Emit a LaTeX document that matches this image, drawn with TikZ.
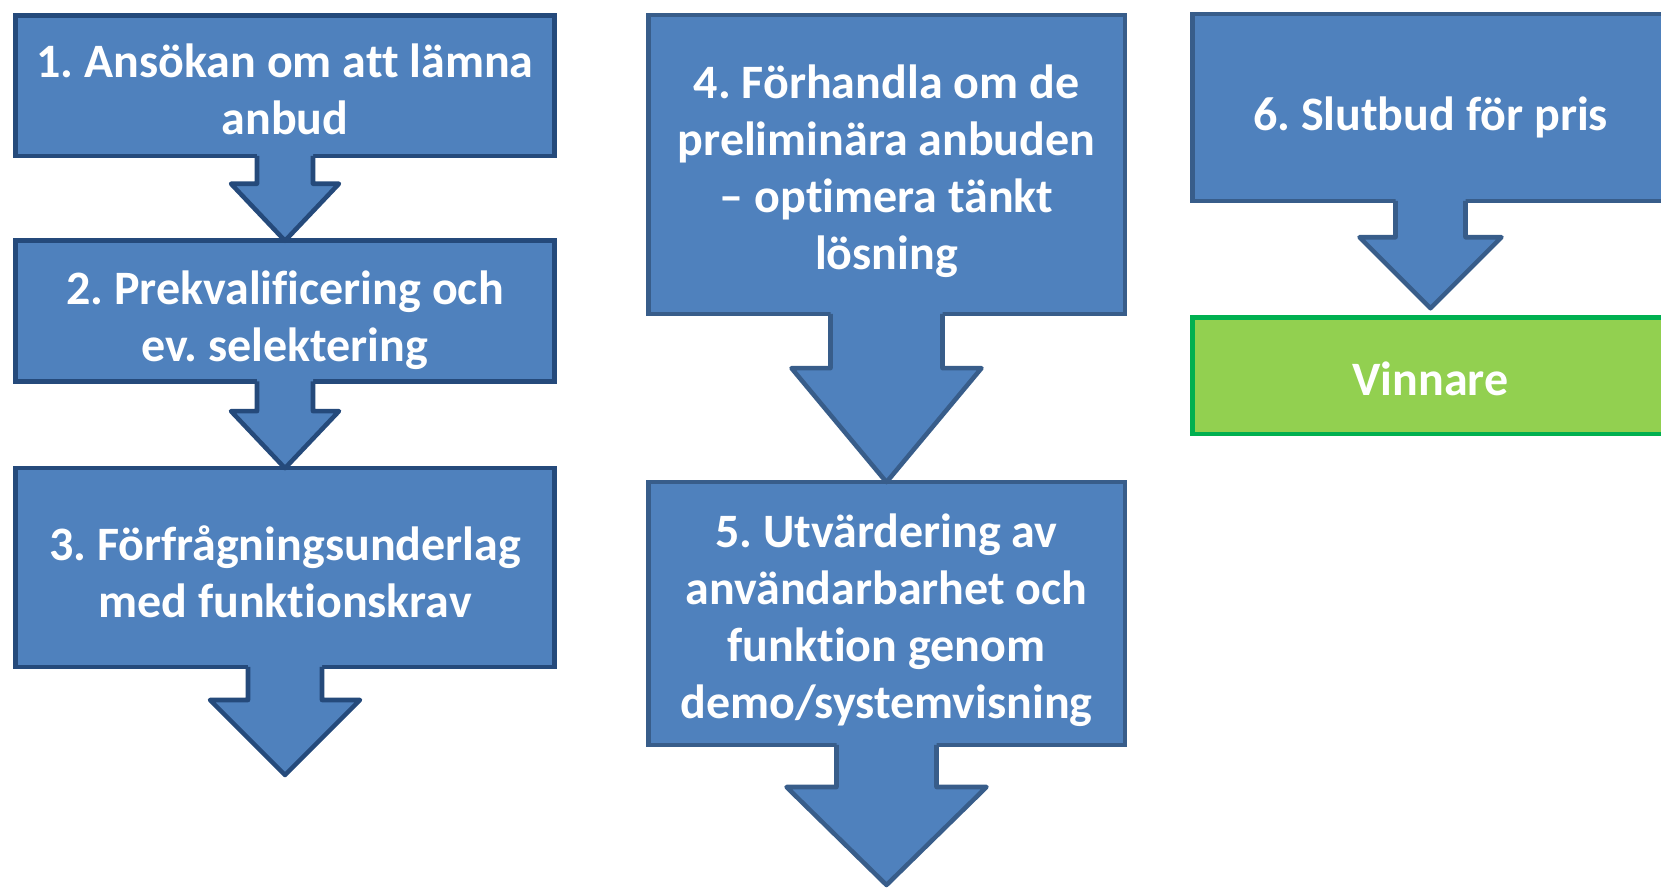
\documentclass[tikz,border=0pt]{standalone}
\usepackage{fontspec}
\setmainfont{Carlito}[Ligatures=NoCommon]
\frenchspacing
\usetikzlibrary{calc}

\definecolor{stepblue}{HTML}{4F81BD}
\definecolor{stepedge}{HTML}{385D8A}
\definecolor{stepedgedark}{HTML}{254A7B}
\definecolor{wingreen}{HTML}{92D050}
\definecolor{winedge}{HTML}{00B050}

\tikzset{
  stepbox/.style={draw=stepedge, fill=stepblue, line width=3.4pt, inner sep=0pt, outer sep=0pt},
  stepboxdark/.style={stepbox, draw=stepedgedark},
  winbox/.style={stepbox, draw=winedge, fill=wingreen},
  steptext/.style={inner sep=0pt, align=center, text=white, font=\bfseries\fontsize{36}{42.75}\selectfont},
}

% block arrow: from node, to point, shaft half width, head half width, head height, edge colour
\newcommand{\downblock}[6]{%
  \fill[stepblue] ($(#1.south)+(-#3,-3)$) -- ($(#2)+(-#3,-#5)$) -- ($(#2)+(-#4,-#5)$) -- (#2)
    -- ($(#2)+(#4,-#5)$) -- ($(#2)+(#3,-#5)$) -- ($(#1.south)+(#3,-3)$) -- cycle;
  \draw[#6, line width=3.4pt, line join=round] ($(#1.south)+(-#3,0)$) -- ($(#2)+(-#3,-#5)$)
    -- ($(#2)+(-#4,-#5)$) -- (#2) -- ($(#2)+(#4,-#5)$) -- ($(#2)+(#3,-#5)$) -- ($(#1.south)+(#3,0)$);
}

\begin{document}
\begin{tikzpicture}[x=0.75pt,y=0.75pt,yscale=-1,xscale=1]
    \useasboundingbox (0,0) rectangle (1661,890);

    %Column 1
    \node[stepboxdark, minimum width=404.6pt, minimum height=105.4pt] (ansokan) at (285,85.5) {};
    \node[stepboxdark, minimum width=404.6pt, minimum height=105.4pt] (prekval) at (285,311) {};
    \node[stepboxdark, minimum width=404.6pt, minimum height=149pt] (underlag) at (285,567.5) {};
    \coordinate (underlagend) at (285,775);

    %Column 2
    \node[stepbox, minimum width=357.4pt, minimum height=224pt] (forhandla) at (886.5,164.5) {};
    \node[stepbox, minimum width=357.4pt, minimum height=197pt] (utvardering) at (886.5,613.5) {};
    \coordinate (utvarderingend) at (886.5,885);

    %Column 3
    \node[stepbox, minimum width=357.4pt, minimum height=140pt] (slutbud) at (1430.5,107.5) {};
    \node[winbox, minimum width=357.4pt, minimum height=87.4pt] (vinnare) at (1430.5,375.5) {};
    \coordinate (slutbudend) at ($(vinnare.north)+(0,-9)$);

    %Block arrows
    \downblock{ansokan}{prekval.north}{28}{54}{57}{stepedgedark}
    \downblock{prekval}{underlag.north}{28}{54}{57}{stepedgedark}
    \downblock{underlag}{underlagend}{37}{75}{75}{stepedgedark}
    \downblock{forhandla}{utvardering.north}{56}{95}{114}{stepedge}
    \downblock{utvardering}{utvarderingend}{50}{100}{98}{stepedge}
    \downblock{slutbud}{slutbudend}{35}{71}{71}{stepedge}

    % Text Nodes
    \node[steptext] (ansokantext) at ($(ansokan)+(0,4)$) {1. Ansökan om att lämna\\anbud};
    \node[steptext] (prekvaltext) at ($(prekval)+(0,9.5)$) {2. Prekvalificering och\\ev. selektering};
    \node[steptext] (underlagtext) at ($(underlag)+(0,4)$) {3. Förfrågningsunderlag\\med funktionskrav};
    \node[steptext] (forhandlatext) at ($(forhandla)+(0,6.5)$) {4. Förhandla om de\\preliminära anbuden\\– optimera tänkt\\lösning};
    \node[steptext] (utvarderingtext) at ($(utvardering)+(0,7)$) {5. Utvärdering av\\användarbarhet och\\funktion genom\\demo/systemvisning};
    \node[steptext] (slutbudtext) at ($(slutbud)+(0,9.5)$) {6. Slutbud för pris};
    \node[steptext] (vinnaretext) at ($(vinnare)+(0,3)$) {Vinnare};
\end{tikzpicture}
\end{document}
